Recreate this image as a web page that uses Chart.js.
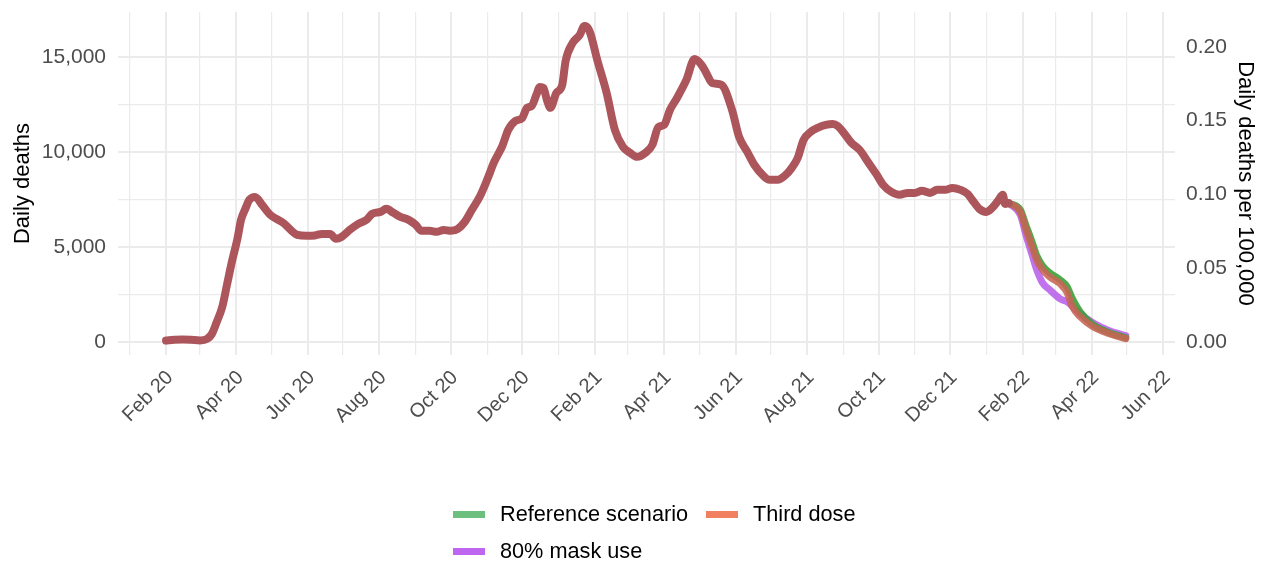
<!DOCTYPE html>
<html><head><meta charset="utf-8">
<script src="https://cdn.jsdelivr.net/npm/chart.js@4.4.1/dist/chart.umd.min.js"></script>
<style>
html,body{margin:0;padding:0;background:#fff;}
#wrap{position:relative;width:1263px;height:563px;overflow:hidden;}
#legend{position:absolute;left:0;top:0;width:1263px;height:563px;pointer-events:none;font-family:"Liberation Sans",Arial,sans-serif;font-size:21.7px;color:#000;}
.item{position:absolute;display:flex;align-items:center;white-space:nowrap;height:26px;line-height:26px;}
.sw{width:32px;height:7px;margin-right:15px;}
</style></head>
<body><div id="wrap"><canvas id="c" width="1263" height="563"></canvas><div id="legend"></div></div>
<script>
// ---- data ----
const histDates = ["2020-02-01","2020-02-08","2020-02-15","2020-02-22","2020-03-01","2020-03-07","2020-03-11","2020-03-15","2020-03-20","2020-03-24","2020-03-28","2020-04-02","2020-04-05","2020-04-09","2020-04-12","2020-04-17","2020-04-23","2020-04-30","2020-05-11","2020-05-23","2020-05-31","2020-06-07","2020-06-13","2020-06-20","2020-06-25","2020-06-30","2020-07-07","2020-07-14","2020-07-21","2020-07-26","2020-08-02","2020-08-07","2020-08-13","2020-08-19","2020-08-26","2020-09-01","2020-09-06","2020-09-13","2020-09-19","2020-09-25","2020-10-01","2020-10-07","2020-10-13","2020-10-19","2020-10-26","2020-11-01","2020-11-07","2020-11-14","2020-11-19","2020-11-25","2020-12-01","2020-12-05","2020-12-09","2020-12-13","2020-12-16","2020-12-19","2020-12-22","2020-12-25","2020-12-30","2021-01-04","2021-01-07","2021-01-13","2021-01-19","2021-01-23","2021-01-25","2021-01-28","2021-02-03","2021-02-11","2021-02-18","2021-02-25","2021-03-03","2021-03-09","2021-03-16","2021-03-22","2021-03-27","2021-04-01","2021-04-06","2021-04-12","2021-04-20","2021-04-27","2021-05-03","2021-05-07","2021-05-12","2021-05-20","2021-05-29","2021-06-04","2021-06-11","2021-06-17","2021-06-24","2021-06-30","2021-07-07","2021-07-13","2021-07-19","2021-07-24","2021-07-29","2021-08-04","2021-08-10","2021-08-17","2021-08-23","2021-08-27","2021-09-02","2021-09-08","2021-09-15","2021-09-22","2021-09-29","2021-10-05","2021-10-12","2021-10-19","2021-10-26","2021-11-01","2021-11-07","2021-11-14","2021-11-20","2021-11-27","2021-12-03","2021-12-10","2021-12-16","2021-12-20","2021-12-26","2022-01-01","2022-01-06","2022-01-11","2022-01-15","2022-01-17","2022-01-20"];
const histDeaths = [60,100,110,100,70,150,400,1000,1840,3000,4160,5450,6420,7050,7470,7630,7210,6680,6260,5630,5580,5600,5680,5680,5420,5530,5900,6210,6420,6740,6840,7000,6790,6580,6420,6160,5840,5840,5790,5890,5840,5950,6320,6950,7680,8530,9470,10320,11160,11630,11790,12320,12420,13000,13420,13370,12740,12320,13100,13500,14800,15740,16160,16630,16600,16260,14840,13100,11160,10260,9950,9740,9950,10370,11300,11420,12210,12840,13790,14890,14580,14160,13630,13530,12210,10790,10000,9320,8790,8530,8530,8740,9160,9680,10630,11050,11260,11420,11470,11370,10950,10470,10100,9470,8840,8260,7890,7740,7840,7840,7950,7840,8000,8000,8100,8000,7790,7470,7000,6840,7050,7420,7740,7260,7300];

const fcDates = ["2022-01-20","2022-01-30","2022-02-04","2022-02-09","2022-02-13","2022-02-18","2022-02-24","2022-03-05","2022-03-11","2022-03-15","2022-03-22","2022-04-02","2022-04-16","2022-04-30"];
const referenceScenario = [7300,6950,6100,5260,4530,4000,3630,3260,2890,2320,1580,890,470,210];
const thirdDose         = [7300,6840,5890,5000,4320,3790,3420,3050,2580,1890,1320,790,420,160];
const maskUse80         = [7300,6680,5580,4580,3790,3100,2740,2260,2100,1890,1470,1000,580,320];

const scenarioNames = ["Reference scenario","80% mask use","Third dose"];
const legendColors  = ["#6dbf7d","#bf66f0","#f0805f"];

const yTicksLeft  = [0,2500,5000,7500,10000,12500,15000];
const yTicksRight = [0,0.05,0.10,0.15,0.20];
const monthNames  = ["Jan","Feb","Mar","Apr","May","Jun","Jul","Aug","Sep","Oct","Nov","Dec"];
const perHundredK = 1.288e-5; // deaths -> deaths per 100,000 (world population)

// ---- helpers ----
const toTs = s => { const [y,m,d] = s.split("-").map(Number); return Date.UTC(y, m-1, d); };
const pts = (dates, vals) => dates.map((d,i) => ({x: toTs(d), y: vals[i]}));

const monthTicks = [];
for (let y = 2020; y <= 2022; y++) for (let m = 0; m < 12; m++) {
  const t = Date.UTC(y, m, 1);
  if (t >= Date.UTC(2020,0,1) && t <= Date.UTC(2022,5,1)) monthTicks.push(t);
}
const monthLabel = v => { const d = new Date(v); const m = d.getUTCMonth(); return (m % 2 === 1) ? monthNames[m] + " " + String(d.getUTCFullYear()).slice(2) : ""; };
const isMajorMonth = v => new Date(v).getUTCMonth() % 2 === 1;

const FONT = '"Liberation Sans", Arial, sans-serif';
const yMin = -700, yMax = 17370;
const noPad = s => { s.paddingTop = 0; s.paddingBottom = 0; s.paddingLeft = 0; s.paddingRight = 0; };

const lineBase = {pointRadius:0, cubicInterpolationMode:'monotone', borderJoinStyle:'round', borderCapStyle:'round', fill:false};

const chart = new Chart(document.getElementById('c'), {
  type: 'line',
  data: {
    datasets: [
      Object.assign({label:'Observed', data: pts(histDates, histDeaths), borderColor:'rgb(172,86,92)', borderWidth:8, inLegend:false}, lineBase),
      Object.assign({label:scenarioNames[2], data: pts(fcDates, thirdDose), borderColor:'rgba(200,100,84,0.88)', borderWidth:7, inLegend:true, legendColor:legendColors[2]}, lineBase),
      Object.assign({label:scenarioNames[0], data: pts(fcDates, referenceScenario), borderColor:'rgba(60,160,55,0.9)', borderWidth:7, inLegend:true, legendColor:legendColors[0]}, lineBase),
      Object.assign({label:scenarioNames[1], data: pts(fcDates, maskUse80), borderColor:'rgba(185,100,235,0.9)', borderWidth:7, inLegend:true, legendColor:legendColors[1]}, lineBase)
    ]
  },
  options: {
    responsive:false, animation:false, devicePixelRatio:1,
    layout:{padding:{top:12,left:0,right:0,bottom:0}},
    plugins:{legend:{display:false}, tooltip:{enabled:false}},
    scales:{
      x:{
        type:'linear', min: Date.UTC(2019,11,22), max: Date.UTC(2022,5,11),
        afterBuildTicks: s => { s.ticks = monthTicks.map(v => ({value:v})); },
        afterFit: s => { s.height = 208; noPad(s); },
        grid:{color:'#ebebeb', lineWidth: c => (c.tick && isMajorMonth(c.tick.value)) ? 2 : 1.2, drawTicks:false},
        border:{display:false},
        ticks:{autoSkip:false, minRotation:45, maxRotation:45, padding:11, labelOffset:4, color:'#4d4d4d', font:{family:FONT, size:20}, callback: v => monthLabel(v)}
      },
      y:{
        position:'left', min:yMin, max:yMax,
        afterBuildTicks: s => { s.ticks = yTicksLeft.map(v => ({value:v})); },
        afterFit: s => { s.width = 118; noPad(s); },
        grid:{color:'#ebebeb', lineWidth: c => (c.tick && c.tick.value % 5000 === 0) ? 2 : 1.2, drawTicks:false},
        border:{display:false},
        ticks:{padding:12, color:'#4d4d4d', font:{family:FONT, size:21}, callback: v => (v % 5000 === 0) ? v.toLocaleString('en-US') : ''},
        title:{display:true, text:'Daily deaths', color:'#000', font:{family:FONT, size:22}, padding:{top:10, bottom:0}}
      },
      y2:{
        position:'right', min:yMin*perHundredK, max:yMax*perHundredK,
        afterBuildTicks: s => { s.ticks = yTicksRight.map(v => ({value:v})); },
        afterFit: s => { s.width = 88; noPad(s); },
        grid:{display:false, drawTicks:false},
        border:{display:false},
        ticks:{padding:11, color:'#4d4d4d', font:{family:FONT, size:21}, callback: v => v.toFixed(2)},
        title:{display:true, text:'Daily deaths per 100,000', color:'#000', font:{family:FONT, size:22}, padding:{top:5, bottom:0}}
      }
    }
  }
});

// ---- legend (HTML, two rows like the original) ----
const legendPos = {"Reference scenario":[453,501], "Third dose":[706,501], "80% mask use":[453,538]};
const lg = document.getElementById('legend');
chart.data.datasets.filter(d => d.inLegend).forEach(d => {
  const p = legendPos[d.label];
  const it = document.createElement('div'); it.className = 'item';
  it.style.left = p[0] + 'px'; it.style.top = p[1] + 'px';
  const sw = document.createElement('span'); sw.className = 'sw'; sw.style.background = d.legendColor;
  const tx = document.createElement('span'); tx.textContent = d.label;
  it.appendChild(sw); it.appendChild(tx); lg.appendChild(it);
});
</script>
</body></html>
